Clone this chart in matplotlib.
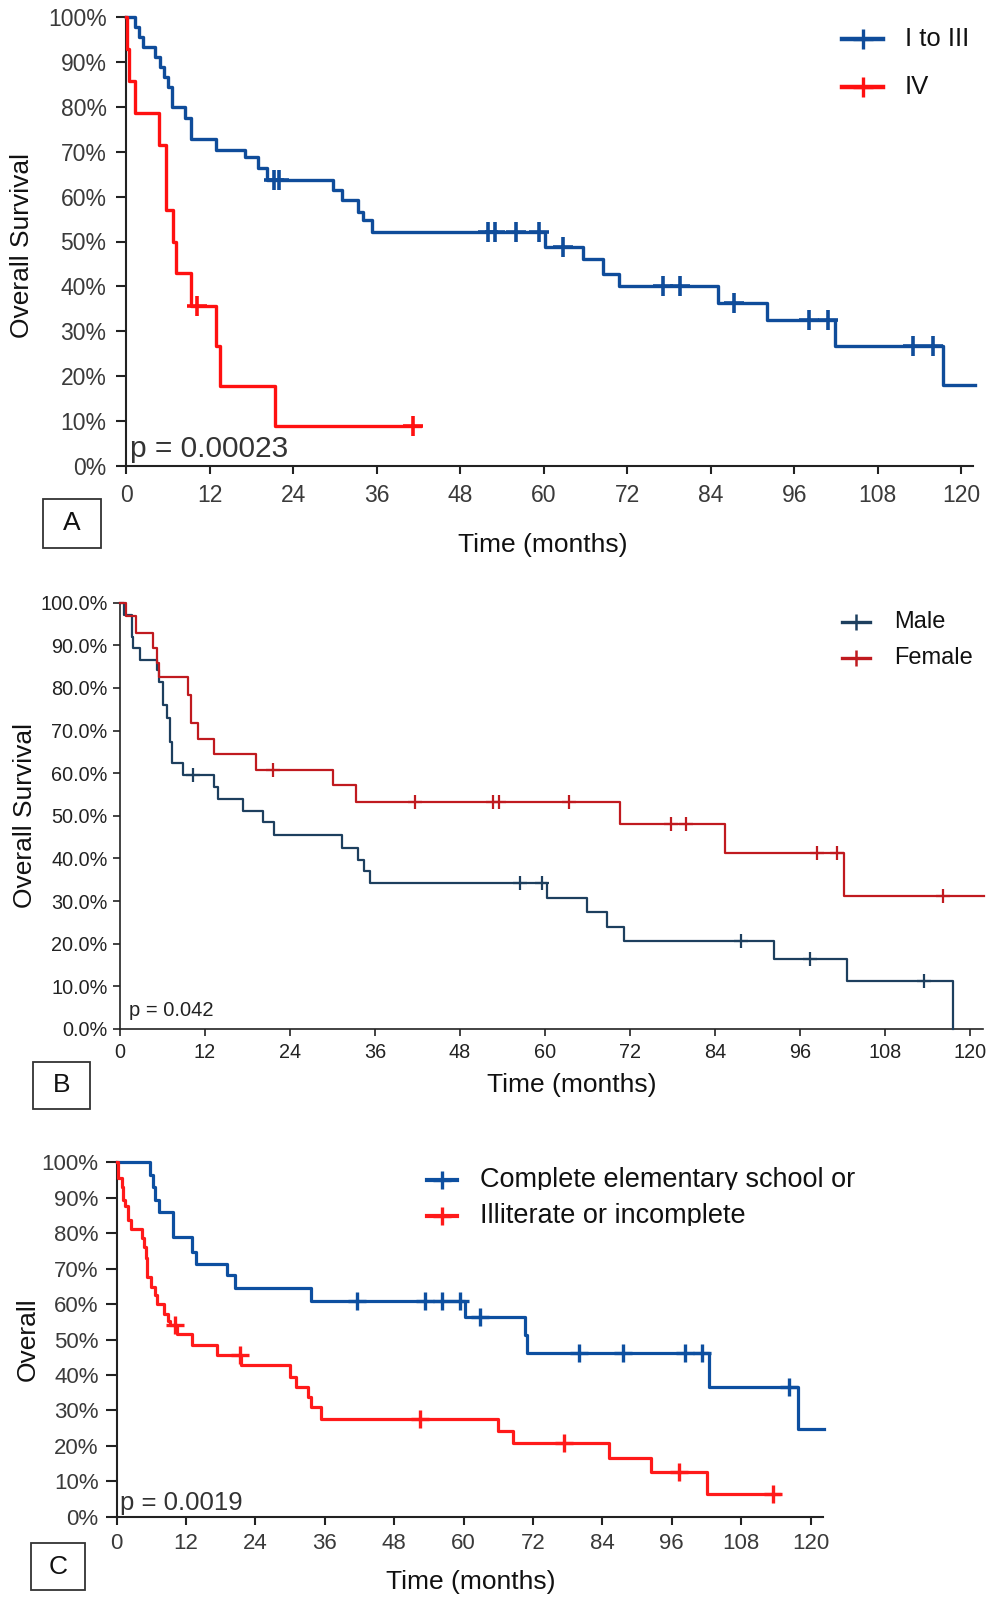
import numpy as np
import matplotlib
matplotlib.use('Agg')
import matplotlib.pyplot as plt
from matplotlib.lines import Line2D
from matplotlib.patches import Rectangle
from matplotlib.transforms import Bbox, TransformedBbox

plt.rcParams['font.family'] = ['Liberation Sans', 'DejaVu Sans']

# ---- panel A: stage ----
a_hi_t = [0, 1.3, 1.8, 2.5, 4.2, 4.9, 5.4, 6.0, 6.6, 8.5, 9.4, 13.0, 17.1, 19.0, 20.2,
          29.8, 31.0, 33.4, 34.1, 35.3, 60.2, 65.7, 68.6, 70.9, 85.0, 92.1, 101.9, 117.4]
a_hi_s = [100, 97.8, 95.6, 93.3, 91.1, 88.9, 86.7, 84.4, 80.0, 77.5, 72.8, 70.4, 68.9, 66.3, 63.7,
          61.5, 59.2, 56.6, 54.8, 52.2, 48.8, 46.0, 42.8, 40.1, 36.2, 32.5, 26.8, 18.0]
a_hi_end = 122
a_hi_cens = [21.2, 22.0, 52.0, 53.0, 56.0, 59.4, 62.8, 77.2, 79.6, 87.3, 98.2, 100.9, 113.1, 116.0]

a_iv_t = [0, 0.2, 0.4, 1.3, 4.8, 5.7, 6.8, 7.2, 9.4, 13.0, 13.5, 21.4]
a_iv_s = [100, 92.9, 85.7, 78.6, 71.4, 57.1, 50.0, 42.9, 35.7, 26.8, 17.9, 8.9]
a_iv_end = 42.3
a_iv_cens = [10.2, 41.3]

# ---- panel B: sex ----
b_m_t = [0, 0.5, 1.65, 1.9, 2.8, 5.2, 5.5, 6.0, 6.6, 7.1, 7.3, 8.9, 13.2, 13.9, 17.3, 20.2, 21.7,
         31.3, 33.6, 34.5, 35.3, 60.2, 65.9, 68.8, 71.2, 92.3, 102.6, 117.6]
b_m_s = [100, 97.1, 92.0, 89.3, 86.6, 84.2, 81.5, 76.0, 72.9, 67.4, 62.5, 59.6, 56.8, 53.9, 51.2, 48.5, 45.5,
         42.5, 39.6, 37.0, 34.2, 30.8, 27.5, 24.0, 20.7, 16.4, 11.3, 0]
b_m_end = 117.6
b_m_cens = [10.3, 56.4, 59.5, 87.6, 97.4, 113.5]

b_f_t = [0, 0.8, 2.3, 4.7, 5.2, 5.5, 9.6, 10.0, 11.0, 13.2, 19.2, 30.1, 33.3, 70.6, 85.4, 102.2]
b_f_s = [100, 96.8, 93.0, 89.3, 85.8, 82.5, 78.3, 71.7, 68.0, 64.5, 60.8, 57.2, 53.3, 48.0, 41.2, 31.2]
b_f_end = 122
b_f_cens = [21.6, 41.6, 52.7, 53.5, 63.3, 77.7, 79.9, 98.4, 101.2, 116.2]

# ---- panel C: schooling ----
c_ce_t = [0, 5.8, 6.3, 6.6, 7.4, 9.7, 13.0, 13.8, 19.0, 20.5, 33.6, 60.3, 70.6, 71.0, 102.4, 117.8]
c_ce_s = [100, 96.4, 93.1, 89.4, 86.1, 78.8, 74.8, 71.3, 68.2, 64.4, 60.9, 56.4, 51.3, 46.1, 36.7, 24.7]
c_ce_end = 122.4
c_ce_cens = [41.5, 53.3, 56.2, 59.4, 62.9, 79.9, 87.5, 98.3, 101.2, 116.2]

c_il_t = [0, 0.3, 0.9, 1.1, 1.4, 2.0, 2.4, 4.3, 4.7, 5.0, 5.3, 5.9, 6.6, 6.9, 8.1, 8.9, 9.2, 10.4,
          13.0, 17.3, 21.5, 29.9, 31.0, 33.0, 33.6, 35.3, 65.9, 68.6, 85.2, 92.4, 102.1]
c_il_s = [100, 95.5, 93.0, 89.4, 87.7, 83.7, 81.2, 78.6, 76.2, 72.9, 67.7, 64.9, 62.6, 59.9, 57.2, 55.3, 54.0, 51.6,
          48.5, 45.6, 42.8, 39.5, 36.7, 33.9, 31.0, 27.5, 24.2, 20.9, 16.5, 12.5, 6.3]
c_il_end = 114.5
c_il_cens = [10.1, 21.3, 52.5, 77.3, 97.2, 113.5]

xticks = [0, 12, 24, 36, 48, 60, 72, 84, 96, 108, 120]
yticks = [0, 10, 20, 30, 40, 50, 60, 70, 80, 90, 100]

W, H = 988, 1598
fig = plt.figure(figsize=(W / 100, H / 100), dpi=100)


def fx(x):
    return x / W


def fy(y):
    return 1 - y / H


def km(ax, t, s, end, cens, color, lw, ms, mew):
    tt = np.array(t + [end], dtype=float)
    ss = np.array(s + [s[-1]], dtype=float) / 100
    ax.step(tt, ss, where='post', color=color, lw=lw, clip_on=False, zorder=3)
    idx = np.searchsorted(tt, cens, side='right') - 1
    ax.plot(cens, ss[idx], '+', color=color, ms=ms, mew=mew, clip_on=False, zorder=4)


def setup(ax, xmax, fmt, fs, tcol, ylen, xlen, ypad, xpad, spine_lw):
    ax.set_xlim(0, xmax)
    ax.set_ylim(0, 1)
    ax.set_xticks(xticks)
    ax.set_yticks([v / 100 for v in yticks])
    ax.set_yticklabels([fmt % v for v in yticks])
    for sp in ['top', 'right']:
        ax.spines[sp].set_visible(False)
    for sp in ['left', 'bottom']:
        ax.spines[sp].set_linewidth(spine_lw)
        ax.spines[sp].set_color('#222222')
    ax.tick_params(axis='y', length=ylen, width=spine_lw, pad=ypad, labelsize=fs, labelcolor=tcol, color='#222222')
    ax.tick_params(axis='x', length=xlen, width=spine_lw, pad=xpad, labelsize=fs, labelcolor=tcol, color='#222222')


def legend(entries, x0, x1, xt, ys, fs, lw, ms, mew, clip=None):
    for (label, color), y in zip(entries, ys):
        fig.add_artist(Line2D([fx(x0), fx(x1)], [fy(y), fy(y)], color=color, lw=lw))
        fig.add_artist(Line2D([fx((x0 + x1) / 2)], [fy(y)], marker='+', color=color, ms=ms, mew=mew))
        txt = fig.text(fx(xt), fy(y), label, fontsize=fs, va='center', ha='left', color='#111111')
        if clip is not None:
            cb = Bbox.from_extents(0, fy(y + clip), 1, 1)
            txt.set_clip_box(TransformedBbox(cb, fig.transFigure))
            txt.set_clip_on(True)


def box(x0, x1, y0, y1, letter, fs):
    fig.add_artist(Rectangle((fx(x0), fy(y1)), fx(x1 - x0), (y1 - y0) / H,
                             transform=fig.transFigure, fill=False, ec='#333333', lw=1.3))
    fig.text(fx((x0 + x1) / 2), fy((y0 + y1) / 2), letter, fontsize=fs, ha='center', va='center', color='#111111')


# ---------- A ----------
axA = fig.add_axes([fx(126), fy(466), (973 - 126) / W, (466 - 17) / H])
setup(axA, 121.7, '%d%%', 16.5, '#3a3a3a', 7, 6, 7, 7, 1.5)
km(axA, a_hi_t, a_hi_s, a_hi_end, a_hi_cens, '#0f4c9a', 2.4, 14, 2.6)
km(axA, a_iv_t, a_iv_s, a_iv_end, a_iv_cens, '#ff1010', 2.4, 14, 2.6)
axA.text(0.005, 0.02, 'p = 0.00023', transform=axA.transAxes, fontsize=21.5, color='#333333', va='baseline')
fig.text(fx(543), fy(545), 'Time (months)', fontsize=19, ha='center', va='center', color='#111111')
fig.text(fx(22), fy(245), 'Overall Survival', fontsize=19, ha='center', va='center', rotation=90, color='#111111')
legend([('I to III', '#0f4c9a'), ('IV', '#ff1010')], 842, 883, 905, [39, 87], 18.5, 3.2, 15, 2.4)
box(43, 101, 499, 548, 'A', 19)

# ---------- B ----------
axB = fig.add_axes([fx(120), fy(1029), (983 - 120) / W, (1029 - 602.7) / H])
setup(axB, 121.8, '%.1f%%', 14.3, '#222222', 5, 5, 4, 5, 1.2)
km(axB, b_m_t, b_m_s, b_m_end, b_m_cens, '#1d3f5e', 1.6, 10, 1.6)
km(axB, b_f_t, b_f_s, b_f_end, b_f_cens, '#c01a1f', 1.6, 10, 1.6)
axB.text(0.01, 0.03, 'p = 0.042', transform=axB.transAxes, fontsize=14.5, color='#222222', va='baseline')
fig.text(fx(572), fy(1085), 'Time (months)', fontsize=19, ha='center', va='center', color='#111111')
fig.text(fx(25), fy(815), 'Overall Survival', fontsize=19, ha='center', va='center', rotation=90, color='#111111')
legend([('Male', '#1d3f5e'), ('Female', '#c01a1f')], 842, 870, 894, [622, 658], 17, 2.4, 11, 1.8)
box(33, 90, 1062, 1109, 'B', 19)

# ---------- C ----------
axC = fig.add_axes([fx(116.7), fy(1516.7), (822.7 - 116.7) / W, (1516.7 - 1162.3) / H])
setup(axC, 122.1, '%d%%', 16, '#3a3a3a', 8, 6, 5, 6, 1.5)
km(axC, c_ce_t, c_ce_s, c_ce_end, c_ce_cens, '#0d4fa0', 2.3, 13, 2.4)
km(axC, c_il_t, c_il_s, c_il_end, c_il_cens, '#ff1a1a', 2.3, 13, 2.4)
axC.text(0.005, 0.02, 'p = 0.0019', transform=axC.transAxes, fontsize=18.5, color='#333333', va='baseline')
fig.text(fx(471), fy(1582), 'Time (months)', fontsize=19, ha='center', va='center', color='#111111')
fig.text(fx(28), fy(1339), 'Overall', fontsize=19, ha='center', va='center', rotation=90, color='#111111')
legend([('Complete elementary school or', '#0d4fa0'), ('Illiterate or incomplete', '#ff1a1a')],
       427, 457, 480, [1180, 1216], 19.5, 3.0, 13, 2.4, clip=10)
box(31, 85, 1543, 1590, 'C', 19)

fig.savefig('out.png', dpi=100)
